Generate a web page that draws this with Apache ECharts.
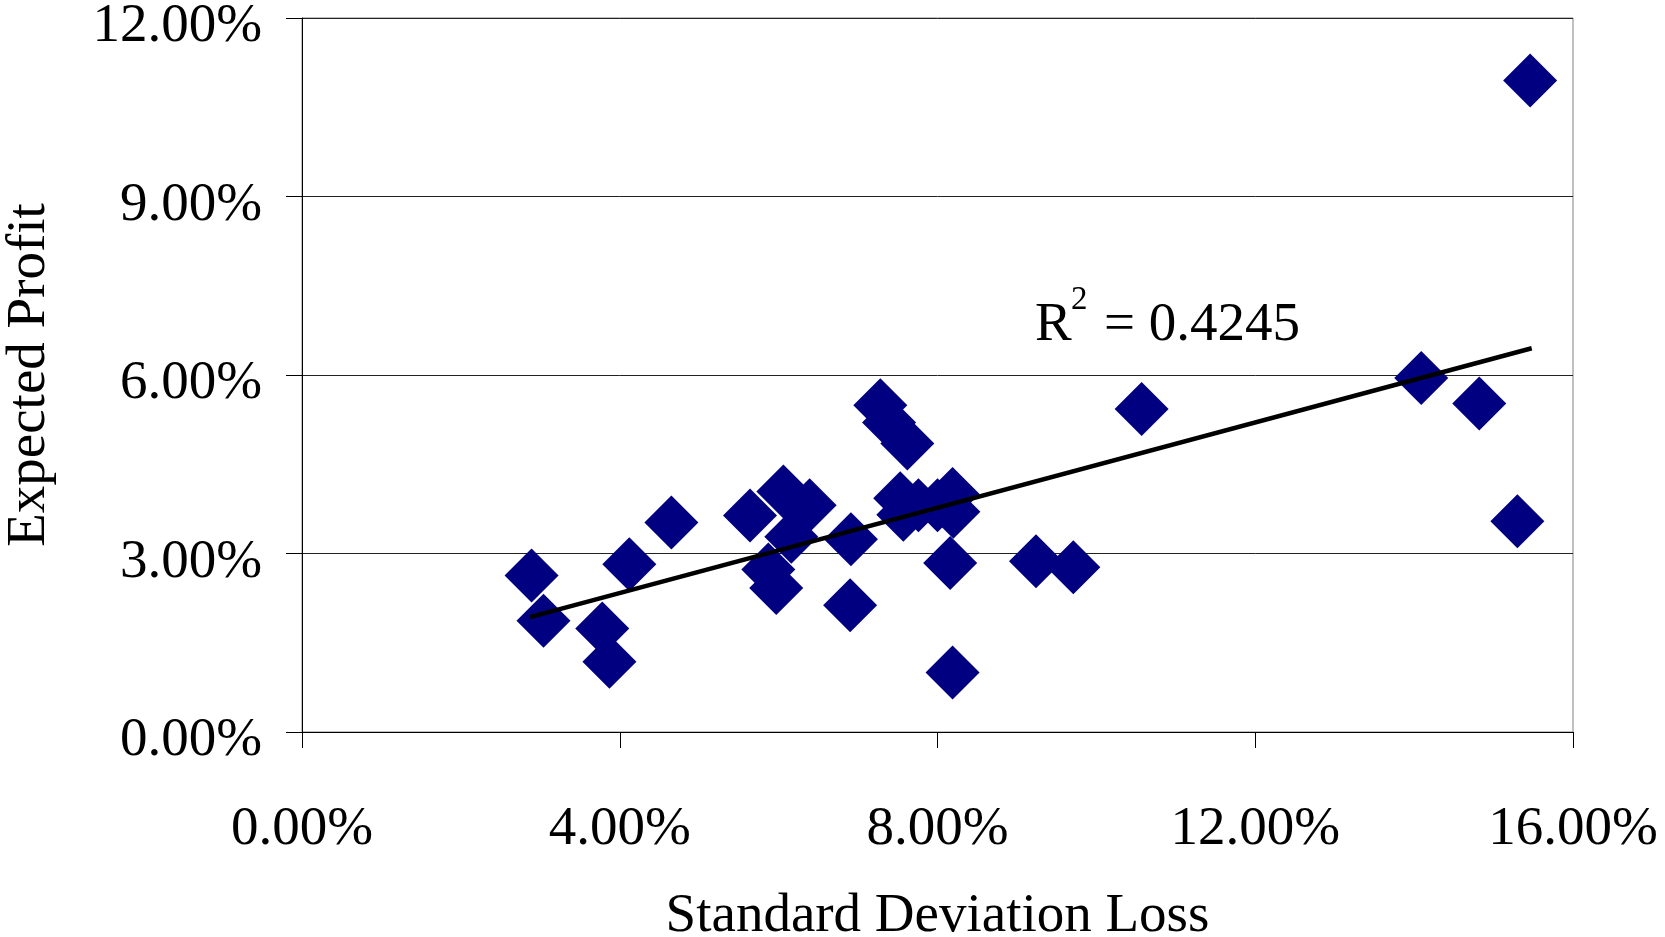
<!DOCTYPE html>
<html>
<head>
<meta charset="utf-8">
<script src="https://cdn.jsdelivr.net/npm/echarts@6/dist/echarts.min.js"></script>
<style>
  html, body { margin: 0; padding: 0; background: #fff; }
  #chart { width: 1665px; height: 937px; }
</style>
</head>
<body>
<div id="chart"></div>
<script>
// standard deviation of loss (%), expected profit (%)
const sdLoss = [2.89, 3.04, 3.78, 3.87, 4.12, 4.65, 5.64, 5.87, 5.97, 6.06, 6.16, 6.39, 6.90, 6.91,
  7.28, 7.39, 7.62, 7.53, 7.57, 7.76, 8.00, 8.19, 8.20, 8.16, 8.19, 9.24, 9.71, 10.57,
  14.09, 14.82, 15.30, 15.46];
const expProfit = [2.63, 1.87, 1.74, 1.18, 2.82, 3.52, 3.64, 2.73, 2.42, 4.04, 3.28, 3.81, 2.13, 3.24,
  5.49, 5.20, 4.85, 3.93, 3.65, 3.81, 3.81, 4.00, 3.70, 2.84, 1.00, 2.87, 2.77, 5.43,
  5.95, 5.52, 3.54, 10.95];

// trend line ends
const trendX = [2.87, 15.48];
const trendY = [1.93, 6.45];
const rSquared = '0.4245';

const FONT = "'Liberation Serif', 'Times New Roman', serif";

const chart = echarts.init(document.getElementById('chart'));

const points = sdLoss.map((x, i) => [x, expProfit[i]]);
const trend = trendX.map((x, i) => [x, trendY[i]]);
const pct = v => v.toFixed(2) + '%';

const option = {
  backgroundColor: '#fff',
  animation: false,
  grid: {
    left: 302, right: 92, top: 18, bottom: 205,
    outerBoundsMode: 'none',
    containLabel: false,
    show: true,
    borderColor: '#808080',
    borderWidth: 1
  },
  xAxis: {
    type: 'value',
    min: 0, max: 16, interval: 4,
    name: 'Standard Deviation Loss',
    nameLocation: 'middle',
    nameGap: 157,
    nameTextStyle: { fontFamily: FONT, fontSize: 55, color: '#000' },
    axisLine: { show: true, onZero: false, lineStyle: { color: '#000', width: 1 } },
    axisTick: { show: true, inside: false, length: 16, lineStyle: { color: '#000' } },
    axisLabel: { fontFamily: FONT, fontSize: 55, color: '#000', margin: 70, formatter: pct },
    splitLine: { show: false }
  },
  yAxis: {
    type: 'value',
    min: 0, max: 12, interval: 3,
    name: 'Expected Profit',
    nameLocation: 'middle',
    nameGap: 245,
    nameTextStyle: { fontFamily: FONT, fontSize: 55, color: '#000' },
    axisLine: { show: true, lineStyle: { color: '#000', width: 1 } },
    axisTick: { show: true, inside: false, length: 16, lineStyle: { color: '#000' } },
    axisLabel: {
      margin: 40,
      formatter: v => '{t|' + pct(v) + '}',
      rich: { t: { fontFamily: FONT, fontSize: 55, color: '#000', padding: [18, 0, 0, 0] } }
    },
    splitLine: { show: true, lineStyle: { color: '#222', width: 1 } }
  },
  series: [
    {
      type: 'scatter',
      data: points,
      symbol: 'diamond',
      symbolSize: 54,
      itemStyle: { color: '#000080', opacity: 1 },
      z: 2
    },
    {
      type: 'line',
      data: trend,
      symbol: 'none',
      lineStyle: { color: '#000', width: 4.5 },
      z: 3
    }
  ],
  graphic: [
    { type: 'text', x: 1035, y: 326, z: 10,
      style: { text: 'R', font: '55px ' + FONT, fill: '#000', verticalAlign: 'middle' } },
    { type: 'text', x: 1071, y: 300, z: 10,
      style: { text: '2', font: '33px ' + FONT, fill: '#000', verticalAlign: 'middle' } },
    { type: 'text', x: 1104, y: 326, z: 10,
      style: { text: '= ' + rSquared, font: '55px ' + FONT, fill: '#000', verticalAlign: 'middle' } }
  ]
};

chart.setOption(option);
</script>
</body>
</html>
